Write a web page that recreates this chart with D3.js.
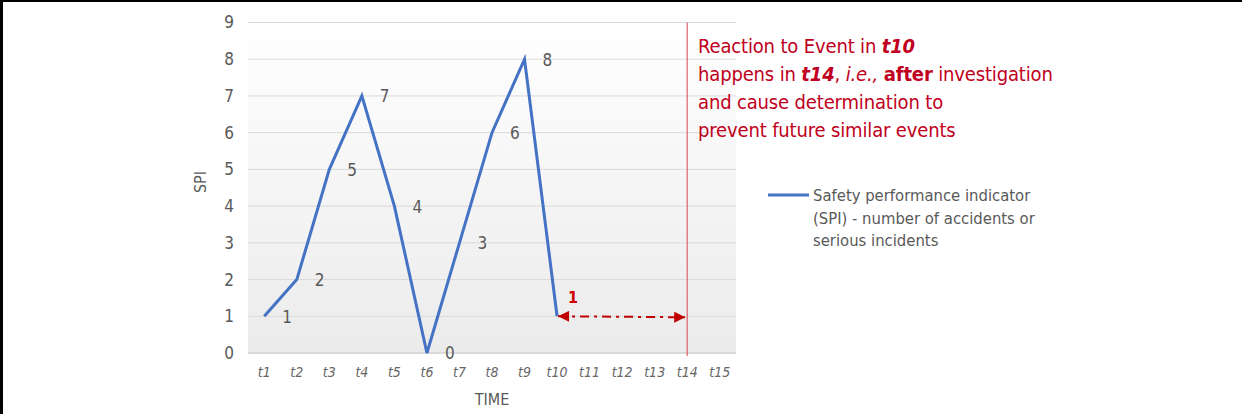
<!DOCTYPE html>
<html><head><meta charset="utf-8">
<script src="https://cdn.jsdelivr.net/npm/d3@7"></script>
<style>
html,body{margin:0;padding:0;background:#fff;}
svg{display:block;}
</style></head>
<body>
<svg id="chart" width="1242" height="414"></svg>
<script>
const categories = ["t1","t2","t3","t4","t5","t6","t7","t8","t9","t10","t11","t12","t13","t14","t15"];
const spiValues = [1,2,5,7,4,0,3,6,8,1,null,null,null,null,null];
const yTicks = [0,1,2,3,4,5,6,7,8,9];
const eventStart = "t10";
const reactionAt = "t14";
const gapLabel = "1";
const legendLines = ["Safety performance indicator","(SPI) - number of accidents or","serious incidents"];

(function(){
const FONT = "'Liberation Sans Narrow','Arial Narrow','DejaVu Sans Condensed',sans-serif";
const svg = d3.select("#chart");
const pL = 248, pR = 736, pT = 22.5, pB = 353;

const x = d3.scaleBand().domain(categories).range([pL, pR]);
const y = d3.scaleLinear().domain([0, 9]).range([pB, pT]);
const cx = c => x(c) + x.bandwidth() / 2;

// frame
svg.append("rect").attr("x",0).attr("y",0).attr("width",1242).attr("height",2).attr("fill","#000");
svg.append("rect").attr("x",0).attr("y",0).attr("width",3).attr("height",414).attr("fill","#000");

// background gradient
const defs = svg.append("defs");
const grad = defs.append("linearGradient").attr("id","bg").attr("x1",0).attr("x2",0).attr("y1",0).attr("y2",1);
grad.append("stop").attr("offset","0%").attr("stop-color","#ffffff");
grad.append("stop").attr("offset","100%").attr("stop-color","#ebebeb");
svg.append("rect").attr("x",pL).attr("y",pT).attr("width",pR-pL).attr("height",pB-pT).attr("fill","url(#bg)");

// arrow markers
defs.append("marker").attr("id","arrEnd").attr("viewBox","0 0 10 10").attr("refX",10).attr("refY",5)
  .attr("markerWidth",13).attr("markerHeight",11).attr("markerUnits","userSpaceOnUse").attr("orient","auto")
  .append("path").attr("d","M0,0L10,5L0,10Z").attr("fill","#c00000");
defs.append("marker").attr("id","arrStart").attr("viewBox","0 0 10 10").attr("refX",0).attr("refY",5)
  .attr("markerWidth",13).attr("markerHeight",11).attr("markerUnits","userSpaceOnUse").attr("orient","auto")
  .append("path").attr("d","M10,0L0,5L10,10Z").attr("fill","#c00000");

// gridlines
svg.append("g").selectAll("line").data(yTicks).join("line")
  .attr("x1",pL).attr("x2",pR).attr("y1",d=>y(d)).attr("y2",d=>y(d))
  .attr("stroke",d=>d===0?"#d0d0d0":"#dadada").attr("stroke-width",d=>d===0?1.5:1);

// y axis
const yAxis = svg.append("g").attr("transform",`translate(${pL},0)`)
  .call(d3.axisLeft(y).tickValues(yTicks).tickSize(0).tickPadding(14));
yAxis.select(".domain").remove();
yAxis.selectAll("text").attr("font-family",FONT).attr("font-size",17).attr("fill","#595959");

// x axis
const xAxis = svg.append("g").attr("transform",`translate(0,${pB})`)
  .call(d3.axisBottom(x).tickSize(0).tickPadding(14));
xAxis.select(".domain").remove();
xAxis.selectAll("text").attr("font-family",FONT).attr("font-size",14).attr("font-style","italic").attr("fill","#666");

// axis titles
svg.append("text").attr("x",492).attr("y",405).attr("text-anchor","middle")
  .attr("font-family",FONT).attr("font-size",16).attr("fill","#595959").text("TIME");
svg.append("text").attr("transform","translate(206,182) rotate(-90)").attr("text-anchor","middle")
  .attr("font-family",FONT).attr("font-size",16).attr("fill","#595959").text("SPI");

// reaction line
svg.append("line").attr("x1",cx(reactionAt)).attr("x2",cx(reactionAt)).attr("y1",pT).attr("y2",pB+3)
  .attr("stroke","#e0606a").attr("stroke-width",1.2);

// series
const pts = categories.map((c,i)=>({c, v: spiValues[i]})).filter(d=>d.v!==null);
svg.append("path").datum(pts)
  .attr("d", d3.line().x(d=>cx(d.c)).y(d=>y(d.v)))
  .attr("fill","none").attr("stroke","#4472c4").attr("stroke-width",3).attr("stroke-linejoin","miter");

// data labels
svg.append("g").selectAll("text").data(pts.filter(d=>d.c!==eventStart)).join("text")
  .attr("x",d=>cx(d.c)+18).attr("y",d=>y(d.v)).attr("dy","0.38em")
  .attr("font-family",FONT).attr("font-size",17).attr("fill","#595959")
  .text(d=>d.v);

// arrow
const arrowY = y(spiValues[categories.indexOf(eventStart)]);
svg.append("line").attr("x1",cx(eventStart)+1).attr("x2",cx(reactionAt)-2).attr("y1",arrowY).attr("y2",arrowY+1)
  .attr("stroke","#c00000").attr("stroke-width",2).attr("stroke-dasharray","9,5,3,5")
  .attr("marker-start","url(#arrStart)").attr("marker-end","url(#arrEnd)");
svg.append("text").attr("x",cx(eventStart)+16).attr("y",arrowY-13)
  .attr("text-anchor","middle").attr("font-family",FONT).attr("font-size",16).attr("font-weight","bold")
  .attr("fill","#d00000").text(gapLabel);

// annotation text
const red = "#c00020";
const ann = svg.append("text").attr("font-family",FONT).attr("font-size",20).attr("letter-spacing",-0.15).attr("fill",red);
const tx = 698;
const l1 = ann.append("tspan").attr("x",tx).attr("y",53);
l1.append("tspan").text("Reaction to Event in ");
l1.append("tspan").attr("font-weight","bold").attr("font-style","italic").text("t10");
const l2 = ann.append("tspan").attr("x",tx).attr("y",81);
l2.append("tspan").text("happens in ");
l2.append("tspan").attr("font-weight","bold").attr("font-style","italic").text("t14");
l2.append("tspan").text(", ");
l2.append("tspan").attr("font-style","italic").text("i.e.,");
l2.append("tspan").text(" ");
l2.append("tspan").attr("font-weight","bold").text("after");
l2.append("tspan").text(" investigation");
ann.append("tspan").attr("x",tx).attr("y",109).text("and cause determination to");
ann.append("tspan").attr("x",tx).attr("y",137).text("prevent future similar events");

// legend
svg.append("line").attr("x1",768).attr("x2",809).attr("y1",195).attr("y2",195)
  .attr("stroke","#4472c4").attr("stroke-width",3);
svg.append("g").selectAll("text").data(legendLines).join("text")
  .attr("x",813).attr("y",(d,i)=>201+i*22.5)
  .attr("font-family",FONT).attr("font-size",16.5).attr("fill","#595959").text(d=>d);
})();
</script>
</body></html>
